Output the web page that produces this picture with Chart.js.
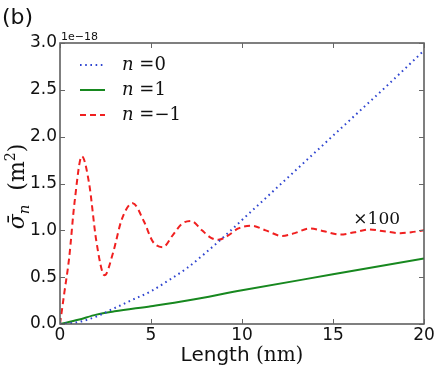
<!DOCTYPE html>
<html lang="en">
<head>
<meta charset="UTF-8">
<title>Cross section vs length</title>
<script src="https://cdn.jsdelivr.net/npm/chart.js@4"></script>
<style>
  html, body { margin: 0; padding: 0; background: #fff; }
  #wrap { width: 436px; height: 365px; }
</style>
</head>
<body>
<div id="wrap"><canvas id="chart" width="436" height="365"></canvas></div>
<script>
// values in units of 1e-18 m^2, the n=-1 curve already scaled x100
const seriesLabels = ["0", "1", "\u22121"]

const lenN0 = [0, 1, 2, 3, 4, 5, 6, 7, 8, 9, 10, 12, 14, 16, 18, 20]
const sigmaN0 = [0, 0.02, 0.08, 0.17, 0.26, 0.35, 0.47, 0.6, 0.76, 0.93, 1.11, 1.47, 1.83, 2.19, 2.55, 2.92]

const lenN1 = [0, 1, 2, 3, 5, 7, 10, 15, 20]
const sigmaN1 = [0, 0.045, 0.1, 0.135, 0.19, 0.25, 0.36, 0.53, 0.70]

const lenNm1 = [0, 0.25, 0.5, 0.8, 1.2, 1.6, 2.0, 2.45, 2.9, 3.4, 4.0, 4.6, 5.1, 5.65, 6.2, 6.7, 7.2,
  7.8, 8.3, 8.7, 9.2, 9.8, 10.5, 11.3, 12.2, 12.9, 13.7, 14.5, 15.4, 16.2, 17.0, 17.8, 18.7, 19.3, 20]
const sigmaNm1 = [0, 0.35, 0.7, 1.3, 1.79, 1.5, 0.88, 0.52, 0.75, 1.12, 1.29, 1.1, 0.88, 0.82, 0.95, 1.07, 1.10,
  1.0, 0.92, 0.9, 0.94, 1.02, 1.05, 1.0, 0.94, 0.97, 1.02, 0.99, 0.955, 0.98, 1.01, 0.99, 0.97, 0.98, 1.0]

const xTicks = [0, 5, 10, 15, 20]
const yTicks = [0, 0.5, 1.0, 1.5, 2.0, 2.5, 3.0]

const colors = ["#2f45d0", "#17881f", "#f02020"]
const dashes = [[1.6, 3.6], [], [6, 4]]

const pts = (xs, ys) => xs.map((x, i) => ({ x, y: ys[i] }))

const SANS = "'DejaVu Sans', sans-serif"
const SERIF = "'DejaVu Serif', serif"

// extra matplotlib-like decorations: inward ticks, box, legend, labels
const decor = {
  id: "decor",
  afterDraw(chart) {
    const { ctx, chartArea: a, scales } = chart
    const xs = scales.x, ys = scales.y
    ctx.save()

    // frame
    ctx.strokeStyle = "#555"
    ctx.lineWidth = 1.5
    ctx.strokeRect(a.left, a.top, a.right - a.left, a.bottom - a.top)

    // inward ticks on all four sides
    ctx.lineWidth = 1
    ctx.strokeStyle = "#666"
    const tl = 5
    ctx.beginPath()
    yTicks.forEach(v => {
      const y = Math.round(ys.getPixelForValue(v)) + 0.5
      ctx.moveTo(a.left, y); ctx.lineTo(a.left + tl, y)
      ctx.moveTo(a.right, y); ctx.lineTo(a.right - tl, y)
    })
    xTicks.forEach(v => {
      const x = Math.round(xs.getPixelForValue(v)) + 0.5
      ctx.moveTo(x, a.bottom); ctx.lineTo(x, a.bottom - tl)
      ctx.moveTo(x, a.top); ctx.lineTo(x, a.top + tl)
    })
    ctx.stroke()

    // legend
    ctx.textBaseline = "middle"
    const rows = [65, 90, 115]
    chart.data.datasets.forEach((ds, i) => {
      const y = rows[i]
      ctx.beginPath()
      ctx.strokeStyle = ds.borderColor
      ctx.lineWidth = ds.borderWidth
      ctx.setLineDash(ds.borderDash || [])
      ctx.moveTo(80, y); ctx.lineTo(105, y)
      ctx.stroke()
      ctx.setLineDash([])
      ctx.fillStyle = "#111"
      ctx.textAlign = "left"
      ctx.font = "italic 18px " + SERIF
      ctx.fillText("n", 122, y)
      const w = ctx.measureText("n ").width
      ctx.font = "18px " + SERIF
      ctx.fillText("=" + seriesLabels[i], 122 + w, y)
    })

    // x100 annotation
    ctx.font = "17px " + SERIF
    ctx.textAlign = "center"
    ctx.fillText("\u00d7100", xs.getPixelForValue(17.4), ys.getPixelForValue(1.12))

    // panel label and offset text
    ctx.textAlign = "left"
    ctx.textBaseline = "alphabetic"
    ctx.font = "22px " + SANS
    ctx.fillText("(b)", 2, 24)
    ctx.font = "11px " + SANS
    ctx.fillText("1e\u221218", a.left + 1, a.top - 3)

    // x title
    ctx.font = "20px " + SANS
    const t1 = "Length "
    const w1 = ctx.measureText(t1).width
    ctx.font = "20px " + SERIF
    const t2 = "(nm)"
    const w2 = ctx.measureText(t2).width
    let x0 = (a.left + a.right) / 2 - (w1 + w2) / 2
    ctx.font = "20px " + SANS
    ctx.fillText(t1, x0, 361)
    ctx.font = "20px " + SERIF
    ctx.fillText(t2, x0 + w1, 361)

    // y title (rotated)
    ctx.translate(24, (a.top + a.bottom) / 2 + 3)
    ctx.rotate(-Math.PI / 2)
    const parts = [
      ["\u03c3\u0304", "italic 22px " + SERIF, 0],
      ["n", "italic 15px " + SERIF, 5],
      ["  (m", "22px " + SERIF, 0],
      ["2", "14px " + SERIF, -9],
      [")", "22px " + SERIF, 0]
    ]
    let total = 0
    parts.forEach(p => { ctx.font = p[1]; total += ctx.measureText(p[0]).width })
    let px = -total / 2
    parts.forEach(p => {
      ctx.font = p[1]
      ctx.fillText(p[0], px, p[2])
      px += ctx.measureText(p[0]).width
    })
    ctx.restore()
  }
}

new Chart(document.getElementById("chart"), {
  type: "line",
  data: {
    datasets: [
      { label: "n=0", data: pts(lenN0, sigmaN0), borderColor: colors[0], borderWidth: 2,
        borderDash: dashes[0], cubicInterpolationMode: "monotone" },
      { label: "n=1", data: pts(lenN1, sigmaN1), borderColor: colors[1], borderWidth: 2,
        borderDash: dashes[1], cubicInterpolationMode: "monotone" },
      { label: "n=-1", data: pts(lenNm1, sigmaNm1), borderColor: colors[2], borderWidth: 2,
        borderDash: dashes[2], cubicInterpolationMode: "monotone" }
    ]
  },
  options: {
    responsive: false,
    animation: false,
    layout: { padding: { top: 43, right: 12, left: 0, bottom: 0 } },
    elements: { point: { radius: 0 } },
    plugins: { legend: { display: false }, tooltip: { enabled: false } },
    scales: {
      x: {
        type: "linear", min: 0, max: 20,
        afterFit: s => { s.height = 41 },
        afterBuildTicks: s => { s.ticks = xTicks.map(v => ({ value: v })) },
        grid: { display: false, drawTicks: false },
        border: { display: false },
        ticks: { padding: 1, color: "#111", font: { family: "DejaVu Sans", size: 17 },
          maxRotation: 0, callback: v => String(v) }
      },
      y: {
        type: "linear", min: 0, max: 3,
        afterFit: s => { s.width = 60 },
        afterBuildTicks: s => { s.ticks = yTicks.map(v => ({ value: v })) },
        grid: { display: false, drawTicks: false },
        border: { display: false },
        ticks: { padding: 3, color: "#111", font: { family: "DejaVu Sans", size: 17 },
          callback: v => v.toFixed(1) }
      }
    }
  },
  plugins: [decor]
})
</script>
</body>
</html>
